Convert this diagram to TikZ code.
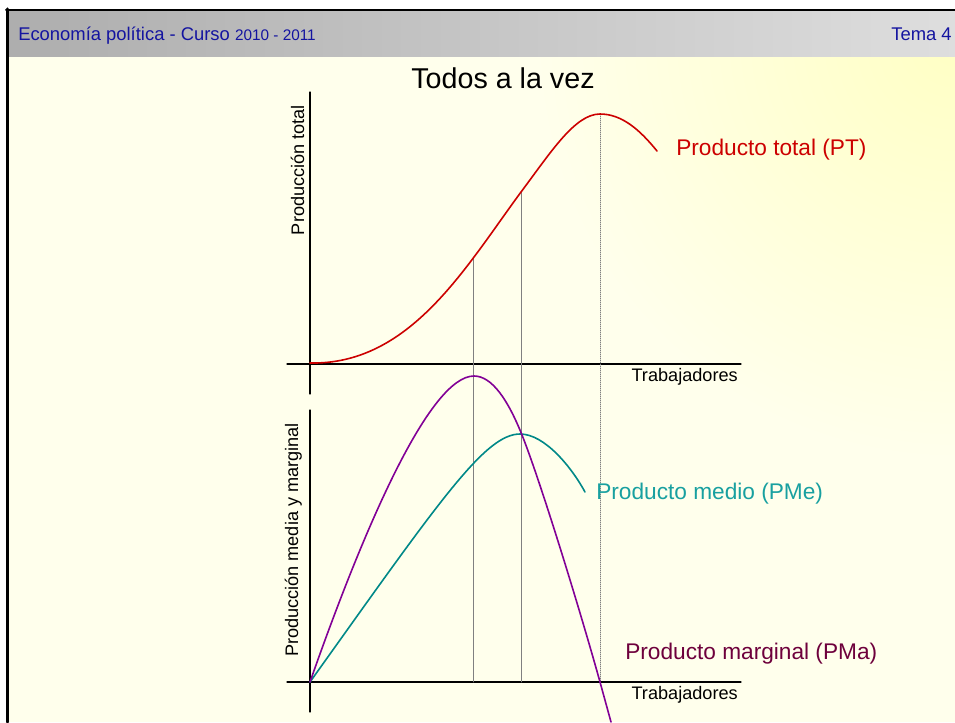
\documentclass[tikz,border=0pt]{standalone}
\usepackage{fontspec}
\setmainfont{Liberation Sans}
\definecolor{cabecera}{RGB}{20,20,160}
\definecolor{rojoPT}{RGB}{204,0,0}
\definecolor{verdePMe}{RGB}{0,136,136}
\definecolor{textoPMe}{RGB}{24,160,160}
\definecolor{moradoPMa}{RGB}{130,0,150}
\definecolor{textoPMa}{RGB}{110,0,60}
\definecolor{fondo}{RGB}{255,255,236}
\definecolor{brillo}{RGB}{255,255,196}
\begin{document}
\begin{tikzpicture}[x=0.75pt, y=-0.75pt, line join=round, line cap=round,
	eje/.style={black, line width=0.8pt},
	guia/.style={black!50, line width=0.5pt},
	curva/.style={line width=1.2pt},
	rotulo/.style={font=\fontsize{13.6}{15}\selectfont, inner sep=0pt},
	etiqueta/.style={font=\fontsize{17}{20}\selectfont, inner sep=0pt}]
	\useasboundingbox (0,0) rectangle (955,722);
	% fondo de la diapositiva
	\fill[white] (0,0) rectangle (955,722);
	\fill[fondo] (8,11) rectangle (955,722);
	\begin{scope}
		\clip (8,56) rectangle (955,722);
		\shade[inner color=brillo, outer color=fondo] (955,40) circle (420);
	\end{scope}
	\shade[left color=black!32, middle color=black!18, right color=black!13] (8,11) rectangle (955,56);
	\draw[line width=1.5pt] (955,10)--(6,10);
	\draw[line width=2.3pt] (7.5,9)--(7.5,722);
	\node[anchor=base west, inner sep=0pt, text=cabecera, font=\fontsize{13.8}{16}\selectfont] (curso) at (18,40) {Economía política - Curso {\fontsize{11.5}{13}\selectfont 2010 - 2011}};
	\node[anchor=base east, inner sep=0pt, text=cabecera, font=\fontsize{13.8}{16}\selectfont] (tema) at (952,40) {Tema 4};
	\node[anchor=base, inner sep=0pt, font=\fontsize{21.5}{24}\selectfont] (titulo) at (503,88) {Todos a la vez};
	% ejes
	\coordinate (ejeA1) at (310,92); \coordinate (ejeA2) at (310,394);
	\coordinate (absA1) at (287,364); \coordinate (absA2) at (741,364);
	\coordinate (ejeB1) at (310,410); \coordinate (ejeB2) at (310,712);
	\coordinate (absB1) at (287,682); \coordinate (absB2) at (741,682);
	\draw[eje] (ejeA1)--(ejeA2);
	\draw[eje] (absA1)--(absA2);
	\draw[eje] (ejeB1)--(ejeB2);
	\draw[eje] (absB1)--(absB2);
	\node[rotulo, anchor=base east] (trabA) at (738,381) {Trabajadores};
	\node[rotulo, anchor=base east] (trabB) at (738,699) {Trabajadores};
	\node[rotulo, rotate=90, anchor=base] (prodT) at (304,170) {Producción total};
	\node[rotulo, rotate=90, anchor=base] (prodM) at (298,540) {Producción media y marginal};
	% líneas guía
	\coordinate (g1) at (473,258); \coordinate (g1b) at (473,682);
	\coordinate (g2) at (521,192); \coordinate (g2b) at (521,682);
	\coordinate (g3) at (600,114); \coordinate (g3b) at (600,682);
	\draw[guia] (g1)--(g1b);
	\draw[guia] (g2)--(g2b);
	\draw[guia, densely dotted] (g3)--(g3b);
	% curvas
	\draw[curva, rojoPT] (310,363) .. controls (410,365) and (465,268) .. (521,192)
		.. controls (551,152) and (575,114) .. (600,114)
		.. controls (622,114) and (640,130) .. (657,151);
	\draw[curva, verdePMe] (310,682) .. controls (440,500) and (485,434) .. (520,434)
		.. controls (545,434) and (572,468) .. (585,492);
	\draw[curva, moradoPMa] (310,682) .. controls (365,525) and (430,376) .. (474,376)
		.. controls (492,376) and (508,400) .. (522,435)
		.. controls (540,480) and (580,610) .. (600,682) -- (611,722);
	\node[etiqueta, text=rojoPT, anchor=west] (PT) at (676,150) {Producto total (PT)};
	\node[etiqueta, text=textoPMe, anchor=west] (PMe) at (596,494) {Producto medio (PMe)};
	\node[etiqueta, text=textoPMa, anchor=west] (PMa) at (625,654) {Producto marginal (PMa)};
\end{tikzpicture}
\end{document}
